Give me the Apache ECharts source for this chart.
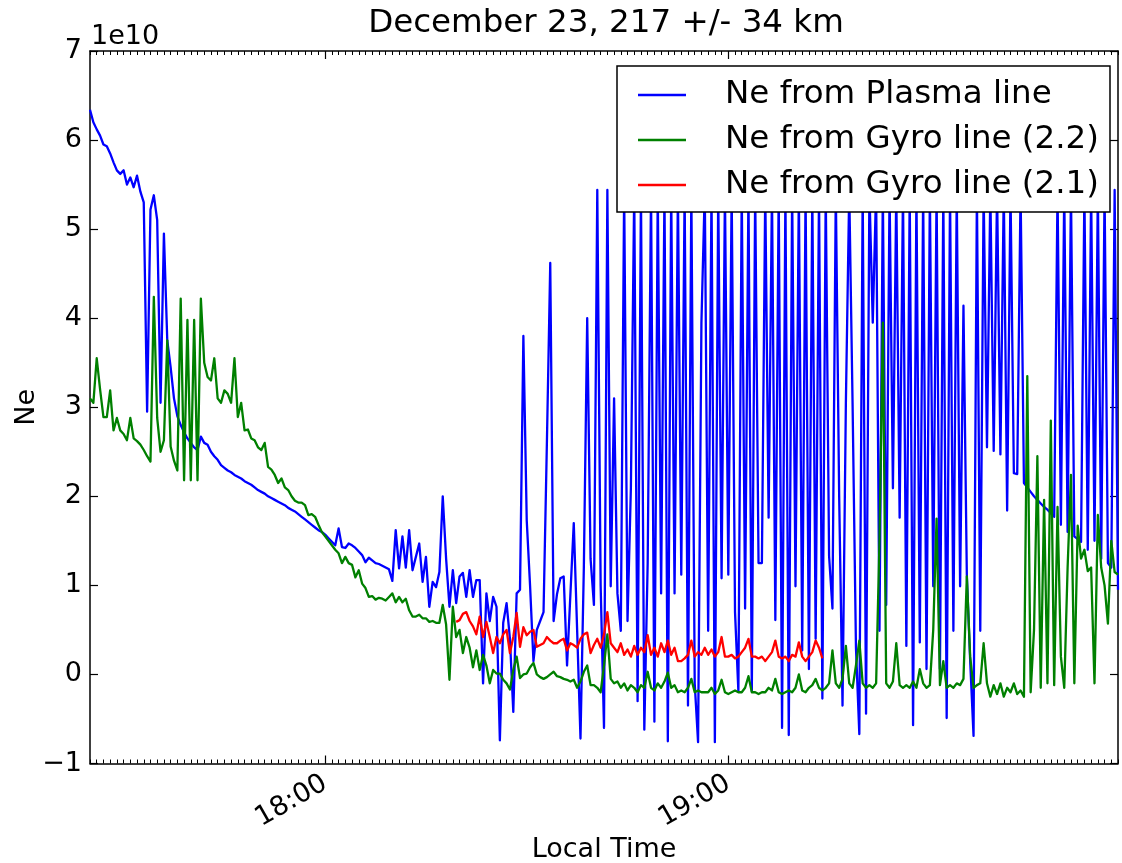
<!DOCTYPE html>
<html>
<head>
<meta charset="utf-8">
<script src="https://cdn.jsdelivr.net/npm/echarts@6/dist/echarts.min.js"></script>
<style>
  html, body { margin: 0; padding: 0; background: #fff; }
  #chart { width: 1122px; height: 863px; }
</style>
</head>
<body>
<div id="chart"></div>
<script>
// Sampling grid: minutes after 17:00, one sample every 30 s
const SAMPLE_START_MIN = 25;
const SAMPLE_STEP_MIN = 0.5;
// Gyro line (2.1) only exists for part of the pass
const GYRO21_FIRST_SAMPLE = 109;

// Time axis ticks (minutes after 17:00) and their labels
const timeTickMinutes = [60, 120];
const timeTickLabels = ['18:00', '19:00'];

// Electron density, units of 1e10
const plasmaNe = [
  6.34, 6.2, 6.12, 6.05, 5.95, 5.93, 5.85, 5.75, 5.66, 5.62,
  5.66, 5.5, 5.58, 5.47, 5.6, 5.42, 5.3, 2.95, 5.22, 5.38,
  5.1, 3.05, 4.95, 3.75, 3.45, 3.1, 2.9, 2.8, 2.72, 2.65,
  2.6, 2.55, 2.52, 2.67, 2.6, 2.58, 2.5, 2.45, 2.41, 2.35,
  2.32, 2.29, 2.27, 2.24, 2.22, 2.2, 2.17, 2.15, 2.13, 2.1,
  2.07, 2.05, 2.03, 2.0, 1.98, 1.96, 1.94, 1.92, 1.9, 1.87,
  1.85, 1.83, 1.8, 1.77, 1.74, 1.71, 1.68, 1.65, 1.62, 1.6,
  1.57, 1.53, 1.49, 1.45, 1.64, 1.43, 1.42, 1.47, 1.45, 1.42,
  1.38, 1.34, 1.26, 1.31, 1.28, 1.25, 1.24, 1.22, 1.2, 1.18,
  1.05, 1.62, 1.19, 1.55, 1.2, 1.62, 1.17, 1.32, 1.47, 1.04,
  1.32, 0.76, 1.04, 0.98, 1.15, 2.0, 1.3, 0.76, 1.17, 0.8,
  1.1, 1.14, 0.87, 1.17, 0.87, 1.06, 1.06, -0.1, 0.91, 0.6,
  0.87, 0.76, -0.74, 0.58, 0.8, 0.4, -0.42, 0.91, 0.95, 3.8,
  1.73, 0.99, 0.15, 0.5, 0.6, 0.7, 2.6, 4.62, 0.6, 0.9,
  1.08, 1.1, 0.1, 0.9, 1.7, 0.5, -0.72, 1.2, 4.0, 1.3,
  0.78, 5.44, 1.0, -0.6, 5.44, 0.99, 3.1, 0.91, 0.49, 5.44,
  0.6, 2.09, 5.44, -0.3, 5.44, -0.62, 1.25, 5.44, -0.53, 5.44,
  0.91, 5.44, -0.75, 5.44, 0.91, 5.44, 1.12, 5.44, -0.35, 5.44,
  -0.1, -0.76, 3.95, 5.44, 0.49, 5.44, -0.76, 5.44, 1.08, 5.44,
  1.12, 5.44, 0.7, -0.19, 5.44, 0.74, 5.44, -0.19, 5.44, 1.25,
  1.25, 5.44, 1.76, 5.44, 0.61, 5.44, -0.6, 5.44, -0.68, 5.44,
  0.99, 5.44, 0.27, 5.44, 0.06, 5.44, 0.4, 5.44, -0.27, 5.44,
  1.33, 0.74, 5.44, 2.0, -0.35, 3.06, 5.44, 3.02, 0.3, -0.67,
  5.44, -0.44, 5.44, 3.95, 5.44, 0.49, 5.44, 0.78, 5.44, 2.09,
  5.44, 1.76, 5.44, 0.32, 5.44, -0.57, 5.44, 0.36, 5.44, 0.06,
  5.44, 0.99, 5.44, 0.06, 5.44, -0.49, 5.44, 0.49, 5.44, 0.99,
  4.14, 1.12, 0.15, -0.69, 5.44, 0.49, 5.44, 2.55, 5.44, 2.51,
  5.44, 2.47, 5.44, 1.84, 5.44, 2.26, 2.25, 5.44, 2.15, 2.1,
  2.05, 2.0, 1.96, 1.92, 1.88, 1.85, 1.81, 1.77, 5.44, 1.68,
  5.44, 1.6, 5.44, 1.55, 1.52, 1.49, 5.44, 1.4, 5.44, 1.5,
  5.44, 1.3, 5.44, 1.25, 1.2, 5.44, 0.95
];

const gyro22Ne = [
  3.1, 3.05, 3.55, 3.2, 2.89, 2.89, 3.19, 2.74, 2.88, 2.74,
  2.7, 2.63, 2.88, 2.65, 2.62, 2.58, 2.52, 2.45, 2.39, 4.24,
  2.88, 2.5, 2.63, 3.75, 2.56, 2.4, 2.29, 4.22, 2.18, 3.98,
  2.18, 3.98, 2.18, 4.22, 3.5, 3.34, 3.3, 3.55, 3.1, 3.05,
  3.19, 3.15, 3.05, 3.55, 2.89, 3.05, 2.74, 2.75, 2.65, 2.63,
  2.55, 2.52, 2.6, 2.33, 2.3, 2.24, 2.15, 2.2, 2.1, 2.07,
  2.0, 1.95, 1.93, 1.93, 1.9, 1.79, 1.8, 1.77, 1.68, 1.6,
  1.55, 1.5, 1.45, 1.4, 1.36, 1.25, 1.32, 1.25, 1.23, 1.09,
  1.17, 1.02, 0.97, 0.87, 0.88, 0.84, 0.86, 0.85, 0.83, 0.87,
  0.91, 0.81, 0.87, 0.81, 0.85, 0.72, 0.65, 0.65, 0.67, 0.63,
  0.63, 0.59, 0.6, 0.58, 0.58, 0.78, 0.56, -0.06, 0.76, 0.42,
  0.5, 0.24, 0.42, 0.3, 0.08, 0.27, 0.05, 0.22, 0.1, -0.1,
  0.05, 0.01, 0.01, -0.06, -0.1, -0.17, 0.05, 0.2, -0.04, 0.0,
  0.01, 0.08, 0.13, 0.0, -0.03, -0.05, -0.03, 0.0, 0.03, -0.02,
  -0.03, -0.05, -0.06, -0.08, -0.06, -0.15, -0.08, 0.03, 0.1, -0.12,
  -0.12, -0.15, -0.2, 0.1, 0.45, -0.05, -0.1, -0.08, -0.15, -0.1,
  -0.18, -0.12, -0.15, -0.2, -0.12, -0.15, 0.03, -0.15, -0.18, -0.1,
  -0.15, -0.08, 0.02, -0.15, -0.12, -0.2, -0.18, -0.2, -0.15, -0.05,
  -0.2, -0.18, -0.2, -0.2, -0.2, -0.15, -0.22, -0.18, -0.06, -0.2,
  -0.22, -0.2, -0.18, -0.2, -0.2, -0.15, -0.02, -0.2, -0.2, -0.22,
  -0.2, -0.2, -0.15, -0.18, -0.05, -0.2, -0.22, -0.2, -0.18, -0.2,
  -0.15, 0.0, -0.18, -0.2, -0.15, -0.12, -0.05, -0.15, -0.18, -0.15,
  -0.1, 0.27, -0.1, -0.15, -0.05, 0.32, -0.1, -0.15, 0.1, 0.38,
  -0.1, -0.15, -0.12, -0.15, -0.1, 1.5, 3.95, -0.1, -0.15, -0.08,
  0.35, -0.12, -0.15, -0.12, -0.15, -0.08, -0.15, 0.06, -0.1, -0.15,
  -0.12, 0.5, 1.75, -0.12, 0.15, -0.15, -0.12, -0.15, -0.1, -0.12,
  -0.05, 1.1, 0.2, -0.15, -0.12, -0.1, 0.35, -0.1, -0.25, -0.12,
  -0.22, -0.1, -0.25, -0.15, -0.2, -0.1, -0.22, -0.18, -0.25, 3.35,
  -0.2, 0.5, 2.45, -0.15, 1.96, -0.1, 2.85, -0.12, 1.88, 0.2,
  -0.15, 1.2, 2.24, -0.1, 1.67, 1.3, 1.4, 1.16, 1.2, -0.1,
  1.79, 1.2, 1.0, 0.57, 1.5, 1.15, 1.12
];

const gyro21Ne = [
  0.59, 0.61, 0.68, 0.7, 0.6, 0.54, 0.45, 0.65, 0.42, 0.59, 0.42,
  0.24, 0.42, 0.35, 0.45, 0.5, 0.24, 0.42, 0.69, 0.31, 0.53,
  0.44, 0.48, 0.5, 0.31, 0.33, 0.35, 0.42, 0.38, 0.35, 0.35,
  0.38, 0.4, 0.27, 0.35, 0.33, 0.3, 0.4, 0.45, 0.47, 0.24,
  0.33, 0.4, 0.3, 0.45, 0.7, 0.35, 0.3, 0.25, 0.35, 0.22,
  0.28, 0.2, 0.32, 0.22, 0.3, 0.25, 0.44, 0.22, 0.3, 0.2,
  0.35, 0.25, 0.38, 0.22, 0.3, 0.15, 0.15, 0.18, 0.22, 0.38,
  0.2, 0.25, 0.22, 0.3, 0.22, 0.28, 0.2, 0.25, 0.42, 0.2,
  0.2, 0.22, 0.18, 0.2, 0.25, 0.3, 0.4, 0.2, 0.2, 0.18,
  0.2, 0.15, 0.2, 0.25, 0.38, 0.2, 0.18, 0.2, 0.15, 0.22,
  0.2, 0.36, 0.2, 0.15, 0.2, 0.25, 0.38, 0.3, 0.18
];

const seriesNames = ['Ne from Plasma line', 'Ne from Gyro line (2.2)', 'Ne from Gyro line (2.1)'];
const seriesColors = ['#0000ff', '#008000', '#ff0000'];

const FONT = 'DejaVu Sans';

function toPoints(values, firstSample) {
  return values.map((v, i) => [SAMPLE_START_MIN + (firstSample + i) * SAMPLE_STEP_MIN, v]);
}

const chart = echarts.init(document.getElementById('chart'), null, { renderer: 'canvas' });

const axisLineStyle = { color: '#000', width: 1.5 };
const tickStyle = { color: '#000', width: 1.2 };

const baseX = {
  type: 'value', min: 25, max: 178,
  splitLine: { show: false },
  axisLine: { show: true, onZero: false, lineStyle: axisLineStyle }
};

const option = {
  animation: false,
  backgroundColor: '#fff',
  grid: { left: 90, top: 51, right: 4, bottom: 99.5, containLabel: false, outerBoundsMode: 'none' },
  graphic: [
    {
      type: 'text', x: 606, y: 24,
      style: { text: 'December 23, 217 +/- 34 km', font: '32.5px "' + FONT + '"', fill: '#000', textAlign: 'center', textVerticalAlign: 'middle' }
    },
    {
      type: 'text', x: 91, y: 37,
      style: { text: '1e10', font: '27px "' + FONT + '"', fill: '#000', textAlign: 'left', textVerticalAlign: 'middle' }
    },
    {
      type: 'rect', z: 10,
      shape: { x: 617, y: 66, width: 493, height: 146 },
      style: { fill: '#fff', stroke: '#000', lineWidth: 1.5 }
    }
  ],
  legend: {
    data: seriesNames,
    orient: 'vertical',
    left: 638, top: 77,
    itemWidth: 48, itemHeight: 2.5, itemGap: 9,
    icon: 'rect',
    padding: 0,
    selectedMode: false,
    z: 20,
    textStyle: { fontFamily: FONT, fontSize: 32.5, color: '#000', lineHeight: 36, padding: [0, 0, 0, 34] }
  },
  xAxis: [
    Object.assign({}, baseX, {
      position: 'bottom',
      axisTick: { show: true, inside: true, length: 8, customValues: timeTickMinutes, lineStyle: tickStyle },
      axisLabel: {
        show: true, customValues: timeTickMinutes,
        formatter: v => timeTickLabels[timeTickMinutes.indexOf(v)],
        rotate: 30, margin: 18, fontFamily: FONT, fontSize: 27, color: '#000'
      },
      name: 'Local Time', nameLocation: 'middle', nameGap: 73, nameMoveOverlap: false,
      nameTextStyle: { fontFamily: FONT, fontSize: 27, color: '#000' }
    }),
    Object.assign({}, baseX, {
      position: 'top',
      axisTick: { show: true, inside: true, length: 8, customValues: timeTickMinutes, lineStyle: tickStyle },
      axisLabel: { show: false }
    }),
    Object.assign({}, baseX, {
      position: 'bottom', interval: 1,
      axisLine: { show: false, onZero: false },
      axisTick: { show: true, inside: true, length: 4, lineStyle: { color: '#000', width: 1 } },
      axisLabel: { show: false }
    }),
    Object.assign({}, baseX, {
      position: 'top', interval: 1,
      axisLine: { show: false, onZero: false },
      axisTick: { show: true, inside: true, length: 4, lineStyle: { color: '#000', width: 1 } },
      axisLabel: { show: false }
    })
  ],
  yAxis: [
    {
      type: 'value', min: -1, max: 7, interval: 1, position: 'left',
      splitLine: { show: false },
      axisLine: { show: true, onZero: false, lineStyle: axisLineStyle },
      axisTick: { show: true, inside: true, length: 8, lineStyle: tickStyle },
      axisLabel: {
        margin: 8, fontFamily: FONT, fontSize: 27, color: '#000',
        formatter: v => (v < 0 ? '\u2212' + Math.abs(v) : String(v))
      },
      name: 'Ne', nameLocation: 'middle', nameGap: 50, nameRotate: 90, nameMoveOverlap: false,
      nameTextStyle: { fontFamily: FONT, fontSize: 27, color: '#000' }
    },
    {
      type: 'value', min: -1, max: 7, interval: 1, position: 'right',
      splitLine: { show: false },
      axisLine: { show: true, onZero: false, lineStyle: axisLineStyle },
      axisTick: { show: true, inside: true, length: 8, lineStyle: tickStyle },
      axisLabel: { show: false }
    }
  ],
  series: [
    { data: toPoints(plasmaNe, 0) },
    { data: toPoints(gyro22Ne, 0) },
    { data: toPoints(gyro21Ne, GYRO21_FIRST_SAMPLE) }
  ].map((s, k) => ({
    name: seriesNames[k],
    type: 'line',
    xAxisIndex: 0, yAxisIndex: 0,
    data: s.data,
    showSymbol: false, symbol: 'none',
    color: seriesColors[k],
    lineStyle: { color: seriesColors[k], width: 2.3, join: 'round' },
    emphasis: { disabled: true },
    z: 2 + k
  }))
};

chart.setOption(option);
</script>
</body>
</html>
